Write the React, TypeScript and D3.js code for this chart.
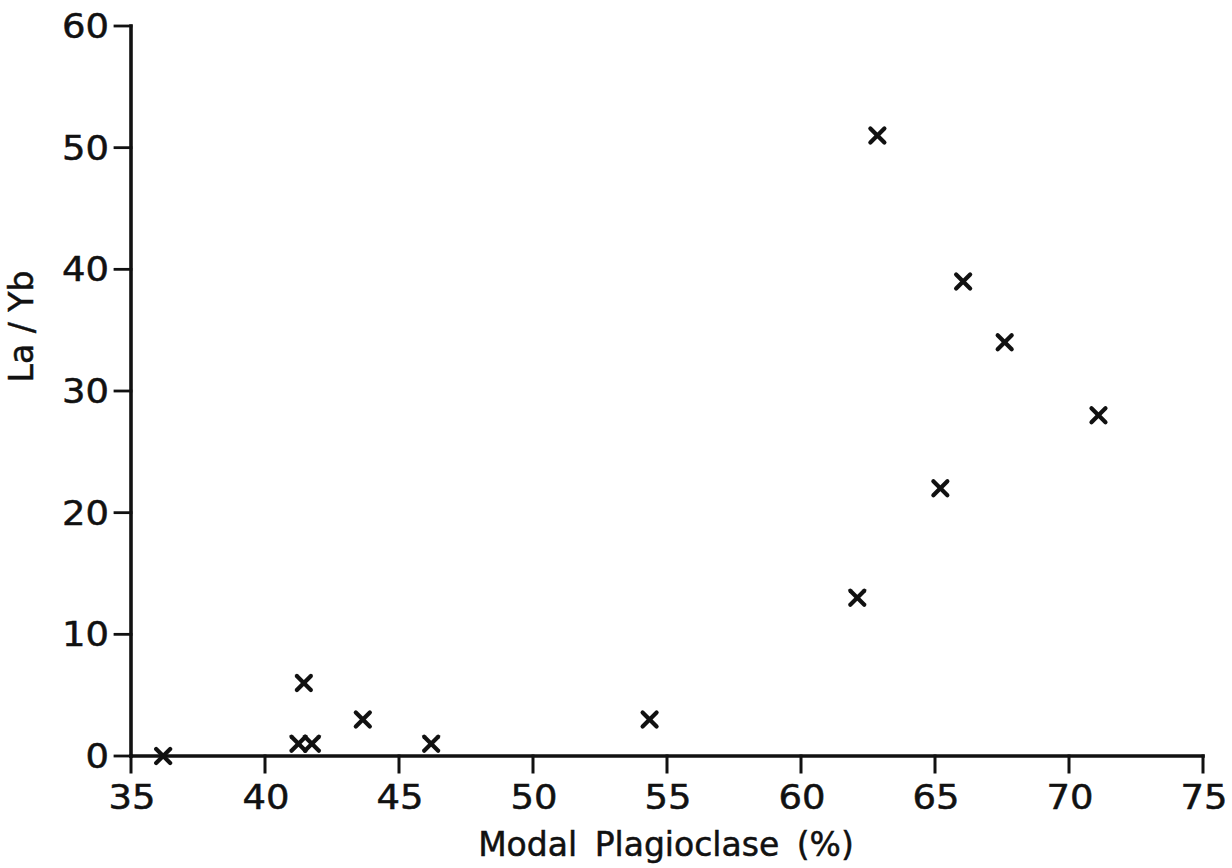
import React from "react";
import * as d3 from "d3";

const plagioclase = [36.2, 41.25, 41.75, 41.45, 43.65, 46.2, 54.35, 62.1, 62.85, 66.05, 67.6, 65.2, 71.1];
const laYb = [0, 1, 1, 6, 3, 1, 3, 13, 51, 39, 34, 22, 28];
const xTicks = [35, 40, 45, 50, 55, 60, 65, 70, 75];
const yTicks = [0, 10, 20, 30, 40, 50, 60];

const W = 1232;
const H = 868;
const FONT = "DejaVu Sans, sans-serif";
// the lettering is a touch wider than DejaVu, so digits get a horizontal stretch
const STRETCH = 1.12;

export default function App() {
  const x = d3.scaleLinear().domain([35, 75]).range([131, 1203]);
  const y = d3.scaleLinear().domain([0, 60]).range([756, 26]);
  const tick = 16;
  const m = 7;

  return (
    <svg
      width={W}
      height={H}
      style={{ position: "absolute", left: 0, top: 0, background: "#fff" }}
    >
      <g stroke="#111" strokeWidth={3.6} fill="none" strokeLinecap="square">
        {/* axes */}
        <line x1={x(35)} y1={y(60)} x2={x(35)} y2={y(0)} />
        <line x1={x(35)} y1={y(0)} x2={x(75)} y2={y(0)} />
        {yTicks.map((t) => (
          <line key={"yt" + t} x1={x(35) - tick} y1={y(t)} x2={x(35)} y2={y(t)} strokeWidth={2.8} />
        ))}
        {xTicks.map((t) => (
          <line key={"xt" + t} x1={x(t)} y1={y(0)} x2={x(t)} y2={y(0) + tick} strokeWidth={3} />
        ))}
      </g>
      <g fontFamily={FONT} fontSize={33} fill="#111" stroke="#111" strokeWidth={0.5}>
        {yTicks.map((t) => (
          <text
            key={"yl" + t}
            transform={`translate(${x(35) - tick - 6}, ${y(t) + 12}) scale(${STRETCH}, 1)`}
            textAnchor="end"
          >
            {t}
          </text>
        ))}
        {xTicks.map((t) => (
          <text
            key={"xl" + t}
            transform={`translate(${x(t) + 1}, 809) scale(${STRETCH}, 1)`}
            textAnchor="middle"
          >
            {t}
          </text>
        ))}
        <text x={666} y={856} textAnchor="middle" wordSpacing={7}>
          Modal Plagioclase (%)
        </text>
        <text transform={`translate(33, ${y(35.3)}) rotate(-90)`} textAnchor="middle">
          La / Yb
        </text>
      </g>
      <g stroke="#111" strokeWidth={4.2} strokeLinecap="round">
        {plagioclase.map((p, i) => {
          const cx = x(p);
          const cy = y(laYb[i]);
          return (
            <g key={"pt" + i}>
              <line x1={cx - m} y1={cy - m} x2={cx + m} y2={cy + m} />
              <line x1={cx - m} y1={cy + m} x2={cx + m} y2={cy - m} />
            </g>
          );
        })}
      </g>
    </svg>
  );
}
